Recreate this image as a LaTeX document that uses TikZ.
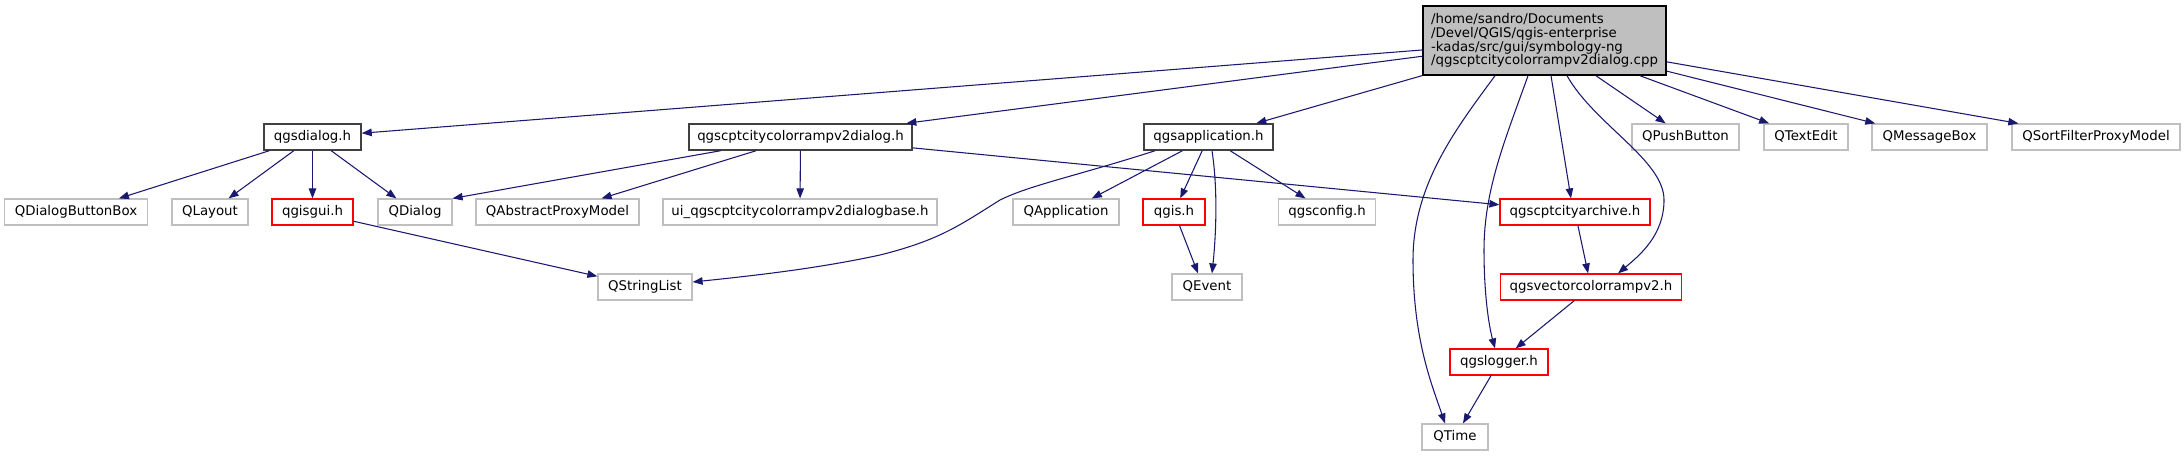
\documentclass[tikz,border=0pt]{standalone}
\usepackage{fontspec}
\setmainfont{DejaVu Sans}
\usetikzlibrary{arrows.meta,calc}
\definecolor{edgeblue}{HTML}{191970}
\definecolor{boxgray}{HTML}{BFBFBF}
\definecolor{boxdark}{HTML}{404040}
\newcommand\gnode[6]{\node[#5, minimum width=#4*0.75pt] (#1) at (#2,#3) {#6};}
\begin{document}
\begin{tikzpicture}[x=0.75pt,y=-0.75pt,
  base/.style={draw, rectangle, inner sep=0pt, fill=white, line width=0.9pt,
    minimum height=26*0.75pt, font=\fontsize{10pt}{12pt}\selectfont,
    text height=0.75em, text depth=0.22em},
  grayb/.style={base, draw=boxgray},
  redb/.style={base, draw=red},
  blackb/.style={base, draw=boxdark, line width=1.1pt},
  edge/.style={draw=edgeblue, line width=0.8pt, -{Triangle[length=7.5pt,width=5.6pt]}}]
\useasboundingbox (0,0) rectangle (2184,455);
% main node
\node[draw=black, line width=1.1pt, fill=boxgray, inner sep=0pt, minimum width=243*0.75pt,
  minimum height=69*0.75pt, align=left, font=\fontsize{10pt}{10.3pt}\selectfont] (main) at (1544.5,40.5)
  {/home/sandro/Documents\\/Devel/QGIS/qgis-enterprise\\-kadas/src/gui/symbology-ng\\/qgscptcitycolorrampv2dialog.cpp};
% row 1
\gnode{qdlg}{312.5}{137}{97}{blackb}{qgsdialog.h}
\gnode{cdlg}{800.5}{137}{223}{blackb}{qgscptcitycolorrampv2dialog.h}
\gnode{qapp}{1208.5}{137}{129}{blackb}{qgsapplication.h}
\gnode{qpb}{1685.5}{137}{107}{grayb}{QPushButton}
\gnode{qte}{1806}{137}{84}{grayb}{QTextEdit}
\gnode{qmb}{1929.5}{137}{115}{grayb}{QMessageBox}
\gnode{qsf}{2096}{137}{168}{grayb}{QSortFilterProxyModel}
% row 2
\gnode{qdbb}{76}{212}{143}{grayb}{QDialogButtonBox}
\gnode{qlay}{210}{212}{76}{grayb}{QLayout}
\gnode{qgisgui}{312.5}{212}{81}{redb}{qgisgui.h}
\gnode{qdialog}{415}{212}{74}{grayb}{QDialog}
\gnode{qapm}{557.5}{212}{163}{grayb}{QAbstractProxyModel}
\gnode{ui}{800}{212}{274}{grayb}{ui\_qgscptcitycolorrampv2dialogbase.h}
\gnode{qapplication}{1066}{212}{106}{grayb}{QApplication}
\gnode{qgis}{1174}{212}{62}{redb}{qgis.h}
\gnode{qcfg}{1327}{212}{97}{grayb}{qgsconfig.h}
\gnode{arch}{1575}{212}{150}{redb}{qgscptcityarchive.h}
% row 3
\gnode{qsl}{645}{287}{94}{grayb}{QStringList}
\gnode{qev}{1207}{287}{70}{grayb}{QEvent}
\gnode{vcr}{1591}{287}{181}{redb}{qgsvectorcolorrampv2.h}
% row 4
\gnode{log}{1499}{362}{98}{redb}{qgslogger.h}
% row 5
\gnode{qtime}{1455}{437}{66}{grayb}{QTime}
% edges from main
\draw[edge] (main) -- (qdlg);
\draw[edge] (main) -- (cdlg);
\draw[edge] (main) -- (qapp);
\draw[edge] (main) -- (qpb);
\draw[edge] (main) -- (qte);
\draw[edge] (main) -- (qmb);
\draw[edge] (main) -- (qsf);
\draw[edge] ($(main.south)+(6.5,0)$) -- ($(arch.north)+(-4,0)$);
\draw[edge] ($(main.south)+(-49.5,0)$) .. controls (1455,130) and (1413,185) .. (1413,260)
  .. controls (1413,340) and (1432,385) .. ($(qtime.north)+(-10,0)$);
\draw[edge] ($(main.south)+(-16.5,0)$) .. controls (1505,140) and (1484,190) .. (1484,250)
  .. controls (1484,300) and (1490,330) .. ($(log.north)+(-4,0)$);
\draw[edge] ($(main.south)+(22.5,0)$) .. controls (1595,125) and (1664,160) .. (1664,200)
  .. controls (1664,235) and (1640,255) .. ($(vcr.north)+(27,0)$);
% qgsdialog.h
\draw[edge] (qdlg) -- (qdbb);
\draw[edge] (qdlg) -- (qlay);
\draw[edge] (qdlg) -- (qgisgui);
\draw[edge] (qdlg) -- (qdialog);
\draw[edge] (qgisgui) -- (qsl);
% qgscptcitycolorrampv2dialog.h
\draw[edge] ($(cdlg.south)+(-80,0)$) -- (qdialog.north east);
\draw[edge] (cdlg) -- (qapm);
\draw[edge] (cdlg) -- (ui);
\draw[edge] (cdlg) -- (arch);
% qgsapplication.h
\draw[edge] ($(qapp.south)+(-53.5,0)$) .. controls (1080,175) and (1030,185) .. (1000,200)
  .. controls (960,225) and (940,240) .. (880,255)
  .. controls (820,268) and (760,275) .. ($(qsl.east)+(0,-5)$);
\draw[edge] (qapp) -- (qapplication);
\draw[edge] (qapp) -- (qgis);
\draw[edge] (qapp) -- (qcfg);
\draw[edge] ($(qapp.south)+(3.5,0)$) .. controls (1218,190) and (1216,235) .. ($(qev.north)+(5,0)$);
\draw[edge] ($(qgis.south)+(5.5,0)$) -- ($(qev.north)+(-9,0)$);
% lower chain
\draw[edge] (arch) -- (vcr);
\draw[edge] (vcr) -- (log);
\draw[edge] (log) -- (qtime);
\end{tikzpicture}
\end{document}
